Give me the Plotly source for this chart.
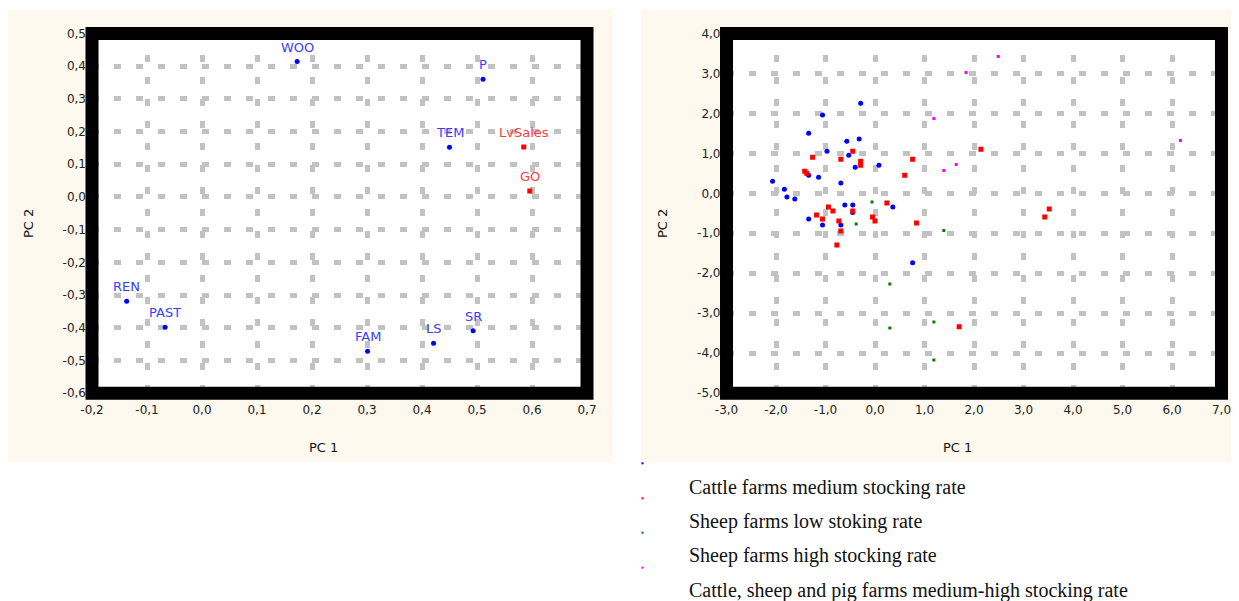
import plotly.graph_objects as go

# page body has an 8px margin; figure is sized so it fits the 1239x601 window
OFF = 8
W, H = 1239 - OFF, 601 - OFF

# ---------------- data: loadings (left panel) ----------------
load_labels_blue = ["WOO", "P", "TEM", "REN", "PAST", "FAM", "LS", "SR"]
load_x_blue = [0.173, 0.511, 0.450, -0.137, -0.067, 0.301, 0.421, 0.493]
load_y_blue = [0.414, 0.360, 0.152, -0.319, -0.398, -0.472, -0.447, -0.409]
load_labels_red = ["LvSales", "GO"]
load_x_red = [0.585, 0.596]
load_y_red = [0.153, 0.018]

left_xticks = [-0.2, -0.1, 0.0, 0.1, 0.2, 0.3, 0.4, 0.5, 0.6, 0.7]
left_xtext = ["-0,2", "-0,1", "0,0", "0,1", "0,2", "0,3", "0,4", "0,5", "0,6", "0,7"]
left_yticks = [-0.6, -0.5, -0.4, -0.3, -0.2, -0.1, 0.0, 0.1, 0.2, 0.3, 0.4, 0.5]
left_ytext = ["-0,6", "-0,5", "-0,4", "-0,3", "-0,2", "-0,1", "0,0", "0,1", "0,2", "0,3", "0,4", "0,5"]

# ---------------- data: scores (right panel) ----------------
cattle_med_x = [-0.29, -1.06, -1.34, -0.57, -0.32, -0.97, -0.53, -0.40, 0.08, -1.34, -1.14, -2.07,
                -0.69, -1.83, -1.78, -1.62, -0.61, -0.45, 0.36, -0.45, -1.34, -1.06, -0.69, 0.76]
cattle_med_y = [2.25, 1.96, 1.50, 1.30, 1.36, 1.05, 0.95, 0.65, 0.70, 0.45, 0.40, 0.30,
                0.26, 0.10, -0.09, -0.14, -0.29, -0.29, -0.34, -0.48, -0.64, -0.79, -0.79, -1.74]
sheep_low_x = [-1.26, -0.69, -0.45, -0.29, -0.29, 0.76, -1.42, -1.38, 0.60, 2.14, 0.24, -0.94, -0.85,
               -0.45, -1.18, -1.06, -0.73, -0.05, 0.00, 0.84, -0.69, -0.77, 3.52, 3.43, 1.70]
sheep_low_y = [0.90, 0.85, 1.05, 0.80, 0.70, 0.85, 0.55, 0.50, 0.45, 1.10, -0.24, -0.34, -0.44,
               -0.44, -0.54, -0.64, -0.69, -0.59, -0.69, -0.74, -0.94, -1.29, -0.39, -0.59, -3.34]
sheep_high_x = [-0.06, -0.38, 1.39, 0.30, 0.30, 1.19, 1.19]
sheep_high_y = [-0.22, -0.77, -0.93, -2.27, -3.37, -3.22, -4.17]
mixed_x = [2.49, 1.84, 1.19, 6.17, 1.64, 1.39]
mixed_y = [3.42, 3.02, 1.87, 1.32, 0.72, 0.57]

right_xticks = [-3, -2, -1, 0, 1, 2, 3, 4, 5, 6, 7]
right_xtext = ["-3,0", "-2,0", "-1,0", "0,0", "1,0", "2,0", "3,0", "4,0", "5,0", "6,0", "7,0"]
right_yticks = [-5, -4, -3, -2, -1, 0, 1, 2, 3, 4]
right_ytext = ["-5,0", "-4,0", "-3,0", "-2,0", "-1,0", "0,0", "1,0", "2,0", "3,0", "4,0"]

legend_names = ["Cattle farms medium stocking rate",
                "Sheep farms low stoking rate",
                "Sheep farms high stocking rate",
                "Cattle, sheep and pig farms medium-high stocking rate"]
legend_colors = ["#0000FF", "#FF0000", "#008000", "#FF00FF"]

# ---------------- helpers (window pixels -> paper fractions) ----------------
def px_x(p):
    return (p - OFF) / W

def px_y(p):
    return 1 - (p - OFF) / H

CREAM = "#FDF9EE"
GRID = "#C2C2C2"
TICKFONT = dict(family="DejaVu Sans", size=12, color="#222222")

fig = go.Figure()

# left panel
fig.add_trace(go.Scatter(
    x=load_x_blue, y=load_y_blue, mode="markers",
    marker=dict(color="#0000FF", size=5, symbol="circle"), xaxis="x", yaxis="y",
    showlegend=False))
fig.add_trace(go.Scatter(
    x=load_x_red, y=load_y_red, mode="markers",
    marker=dict(color="#FF0000", size=5, symbol="square"), xaxis="x", yaxis="y",
    showlegend=False))

# right panel
fig.add_trace(go.Scatter(x=cattle_med_x, y=cattle_med_y, mode="markers", name=legend_names[0],
                         marker=dict(color=legend_colors[0], size=5, symbol="circle"),
                         xaxis="x2", yaxis="y2", showlegend=False))
fig.add_trace(go.Scatter(x=sheep_low_x, y=sheep_low_y, mode="markers", name=legend_names[1],
                         marker=dict(color=legend_colors[1], size=5, symbol="square"),
                         xaxis="x2", yaxis="y2", showlegend=False))
fig.add_trace(go.Scatter(x=sheep_high_x, y=sheep_high_y, mode="markers", name=legend_names[2],
                         marker=dict(color=legend_colors[2], size=3, symbol="square"),
                         xaxis="x2", yaxis="y2", showlegend=False))
fig.add_trace(go.Scatter(x=mixed_x, y=mixed_y, mode="markers", name=legend_names[3],
                         marker=dict(color=legend_colors[3], size=3, symbol="square"),
                         xaxis="x2", yaxis="y2", showlegend=False))

ydom = [px_y(393.2), px_y(33.4)]

def axis_common(tickvals, ticktext, rng, dom, **kw):
    d = dict(range=rng, domain=dom, tickvals=tickvals, ticktext=ticktext,
             showgrid=True, gridcolor=GRID, gridwidth=4.5, griddash="7px,15px",
             zeroline=False, showline=False, ticks="", tickfont=TICKFONT, fixedrange=True,
             automargin=False)
    d.update(kw)
    return d

fig.update_layout(
    width=W, height=H,
    autosize=False,
    margin=dict(l=0, r=0, t=0, b=0, pad=0, autoexpand=False),
    paper_bgcolor="white", plot_bgcolor="white",
    showlegend=False,
    xaxis=axis_common(left_xticks, left_xtext, [-0.2, 0.7], [px_x(92), px_x(587)],
                      anchor="y", ticklabelstandoff=8),
    yaxis=axis_common(left_yticks, left_ytext, [-0.6, 0.5], ydom, anchor="x",
                      ticklabelstandoff=5),
    xaxis2=axis_common(right_xticks, right_xtext, [-3, 7], [px_x(726.5), px_x(1221.5)],
                       anchor="y2", ticklabelstandoff=8),
    yaxis2=axis_common(right_yticks, right_ytext, [-5, 4], ydom, anchor="x2",
                       ticklabelstandoff=5),
)

shapes = []
# cream panel backgrounds
shapes.append(dict(type="rect", xref="paper", yref="paper", x0=px_x(7), x1=px_x(613),
                   y0=px_y(462), y1=px_y(10), fillcolor=CREAM, line=dict(width=0), layer="below"))
shapes.append(dict(type="rect", xref="paper", yref="paper", x0=px_x(641), x1=1,
                   y0=px_y(462), y1=px_y(10), fillcolor=CREAM, line=dict(width=0), layer="below"))
# white plot areas
for xr, yr in [("x domain", "y domain"), ("x2 domain", "y2 domain")]:
    shapes.append(dict(type="rect", xref=xr, yref=yr, x0=0, x1=1, y0=0, y1=1,
                       fillcolor="white", line=dict(width=0), layer="below"))
# thick black frames
for xr, yr in [("x domain", "y domain"), ("x2 domain", "y2 domain")]:
    shapes.append(dict(type="rect", xref=xr, yref=yr, x0=0, x1=1, y0=0, y1=1,
                       line=dict(color="black", width=13), fillcolor="rgba(0,0,0,0)", layer="above"))
# legend swatches
for i, c in enumerate(legend_colors):
    yc = [463.3, 498.3, 532.7, 567.7][i]
    shapes.append(dict(type="rect", xref="paper", yref="paper", x0=px_x(641.5), x1=px_x(643.5),
                       y0=px_y(yc + 1), y1=px_y(yc - 1), fillcolor=c, line=dict(width=0)))
fig.update_layout(shapes=shapes)

ann = []
# variable labels above the loading points
for labels, xs, ys, col in [(load_labels_blue, load_x_blue, load_y_blue, "#3C3CFF"),
                            (load_labels_red, load_x_red, load_y_red, "#FF3C3C")]:
    for t, xv, yv in zip(labels, xs, ys):
        ann.append(dict(xref="x", yref="y", x=xv, y=yv, text=t, showarrow=False,
                        xanchor="center", yanchor="middle", yshift=14.5,
                        font=dict(family="DejaVu Sans", size=13, color=col)))
# axis titles
for (xp, yp, txt, ang) in [(323, 447, "PC 1", 0), (957, 447, "PC 1", 0),
                           (28, 223, "PC 2", -90), (662, 224, "PC 2", -90)]:
    ann.append(dict(xref="paper", yref="paper", x=px_x(xp), y=px_y(yp), text=txt, showarrow=False,
                    textangle=ang, xanchor="center", yanchor="middle",
                    font=dict(family="DejaVu Sans", size=13, color="#111111")))
# legend texts
for i, name in enumerate(legend_names):
    yc = [487.0, 521.0, 555.5, 590.0][i]
    ann.append(dict(xref="paper", yref="paper", x=px_x(687), y=px_y(yc), text=name, showarrow=False,
                    xanchor="left", yanchor="middle",
                    font=dict(family="Liberation Serif", size=20, color="#111111")))
fig.update_layout(annotations=ann)

fig.write_html("out.html")
